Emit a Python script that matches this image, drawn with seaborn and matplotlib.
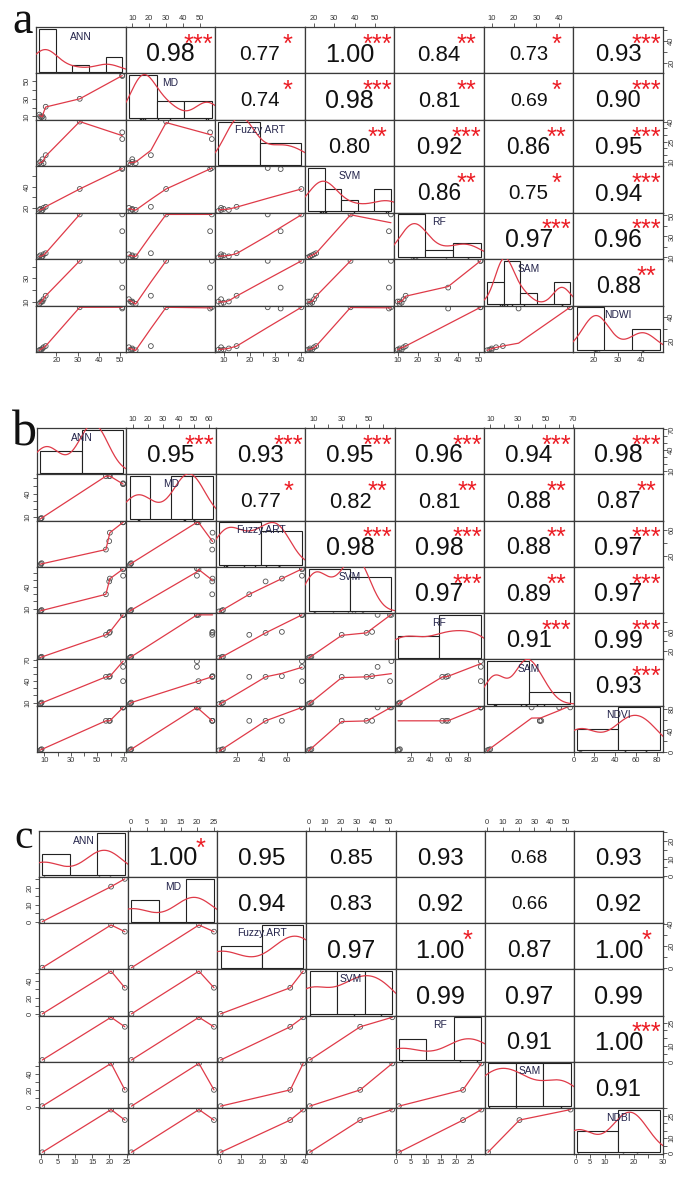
import numpy as np
import pandas as pd
import matplotlib
matplotlib.use("Agg")
import matplotlib.pyplot as plt
import seaborn as sns

# ---------------- panel a ----------------
a_vars = ["ANN", "MD", "Fuzzy ART", "SVM", "RF", "SAM", "NDWI"]
a_ANN = [12, 12.5, 13, 13.5, 14, 15, 31, 51, 51]
a_MD = [12, 10, 9, 10, 8, 21, 30, 57, 56]
a_FuzzyART = [9, 10, 8, 12, 9, 15, 40, 27, 32]
a_SVM = [18, 19, 17, 18, 20, 21, 38, 58, 57]
a_RF = [11, 12, 10, 11, 13, 14, 51, 51, 35]
a_SAM = [8, 9, 10, 10, 12, 15, 45, 45, 22]
a_NDWI = [12.5, 13, 13, 14, 15, 16, 48, 48, 47]
a_r = [0.98, 0.77, 1.00, 0.84, 0.73, 0.93,
       0.74, 0.98, 0.81, 0.69, 0.90,
       0.80, 0.92, 0.86, 0.95,
       0.86, 0.75, 0.94,
       0.97, 0.96,
       0.88]
a_sig = ["***", "*", "***", "**", "*", "***",
         "*", "***", "**", "*", "***",
         "**", "***", "**", "***",
         "**", "*", "***",
         "***", "***",
         "**"]

# ---------------- panel b ----------------
b_vars = ["ANN", "MD", "Fuzzy.ART", "SVM", "RF", "SAM", "NDVI"]
b_ANN = [7, 7.5, 8, 56.5, 59, 59.5, 69.5, 69.5, 69.5]
b_MD = [8, 8.5, 9, 62, 62, 62.2, 52, 52, 53]
b_FuzzyART = [6, 8, 9, 30, 43, 56, 72, 72, 72]
b_SVM = [6, 7, 8, 30, 48, 52, 66, 56, 65]
b_RF = [6, 7, 8, 53, 57, 59, 94, 94, 94]
b_SAM = [8, 9, 10, 46, 46, 47, 68, 60, 40]
b_NDVI = [3, 4, 5, 58, 58, 58, 83, 83, 83]
b_r = [0.95, 0.93, 0.95, 0.96, 0.94, 0.98,
       0.77, 0.82, 0.81, 0.88, 0.87,
       0.98, 0.98, 0.88, 0.97,
       0.97, 0.89, 0.97,
       0.91, 0.99,
       0.93]
b_sig = ["***", "***", "***", "***", "***", "***",
         "*", "**", "**", "**", "**",
         "***", "***", "**", "***",
         "***", "**", "***",
         "***", "***",
         "***"]

# ---------------- panel c ----------------
c_vars = ["ANN", "MD", "Fuzzy.ART", "SVM", "RF", "SAM", "NDBI"]
c_ANN = [0.5, 20.5, 24.5]
c_MD = [0.3, 20.5, 25.0]
c_FuzzyART = [0.5, 39.0, 33.0]
c_SVM = [0.5, 52.0, 32.0]
c_RF = [1.0, 28.4, 22.3]
c_SAM = [0.5, 53.0, 20.5]
c_NDBI = [0.5, 29.0, 22.0]
c_r = [1.00, 0.95, 0.85, 0.93, 0.68, 0.93,
       0.94, 0.83, 0.92, 0.66, 0.92,
       0.97, 1.00, 0.87, 1.00,
       0.99, 0.97, 0.99,
       0.91, 1.00,
       0.91]
c_sig = ["*", "", "", "", "", "",
         "", "", "", "", "",
         "", "*", "", "*",
         "", "", "",
         "", "***",
         ""]

panel_letters = ["a", "b", "c"]

# ---------------- style ----------------
W, H = 680, 1178
RED_LINE = "#df3a48"
RED_STAR = "#ec1c24"
FRAME = "#3a3a3a"
TICK_FS = 5.4
NUM_BASE = 18.3
LABEL_FS = 7.4

sns.set_style("white")
plt.rcParams["font.family"] = ["Liberation Sans", "DejaVu Sans"]


def r_pretty(lo, hi, n=5):
    dx = hi - lo
    cell = dx / n if dx > 0 else max(abs(lo), 1.0)
    U = 10 ** np.floor(np.log10(cell))
    unit = U
    if 2 * U - cell < 1.5 * (cell - unit):
        unit = 2 * U
        if 5 * U - cell < 2.75 * (cell - unit):
            unit = 5 * U
            if 10 * U - cell < 1.5 * (cell - unit):
                unit = 10 * U
    ns = np.floor(lo / unit + 1e-7)
    nu = np.ceil(hi / unit - 1e-7)
    if nu - ns < 1:
        nu = ns + 1
    return np.arange(ns, nu + 0.5) * unit


def nclass_fd(x):
    x = np.asarray(x, float)
    q = np.quantile(x, [0.25, 0.75])
    h = 2 * (q[1] - q[0])
    al = 0.25
    while h == 0 and al / 2 >= 1 / 512:
        al /= 2
        qq = np.quantile(x, [al, 1 - al])
        h = (qq[1] - qq[0]) / (1 - 2 * al)
    if h > 0:
        return max(1, int(np.ceil((x.max() - x.min()) / (h * len(x) ** (-1 / 3)))))
    return 1


def nrd0_factor(x):
    x = np.asarray(x, float)
    sd = np.std(x, ddof=1)
    q = np.quantile(x, [0.25, 0.75])
    lo = min(sd, (q[1] - q[0]) / 1.34)
    if lo <= 0:
        lo = sd
    return 0.9 * lo * len(x) ** (-0.2) / sd


def lowess_r(x, y, f=2 / 3, iters=3):
    o = np.argsort(x, kind="stable")
    x = np.asarray(x, float)[o]
    y = np.asarray(y, float)[o]
    n = len(x)
    ns = max(2, min(n, int(f * n + 1e-7)))
    rw = np.ones(n)
    ys = np.zeros(n)
    rng = x[-1] - x[0]
    idx = np.arange(n)
    for it in range(iters + 1):
        nleft, nright = 0, ns - 1
        for i in range(n):
            while nright < n - 1 and (x[i] - x[nleft]) > (x[nright + 1] - x[i]):
                nleft += 1
                nright += 1
            if i > 0 and x[i] == x[i - 1]:
                ys[i] = ys[i - 1]
                continue
            h = max(x[i] - x[nleft], x[nright] - x[i])
            d = np.abs(x - x[i])
            ok = idx >= nleft
            if h > 0:
                rr = d / h
                w = np.where(rr <= 0.001, 1.0, np.where(rr <= 0.999, (1 - rr ** 3) ** 3, 0.0))
            else:
                w = (d == 0).astype(float)
            w = w * ok * rw
            a = w.sum()
            if a <= 0:
                ys[i] = y[i]
                continue
            w = w / a
            if h > 0:
                a = (w * x).sum()
                b = x[i] - a
                c = (w * (x - a) ** 2).sum()
                if np.sqrt(c) > 0.001 * rng:
                    b /= c
                    w = w * (b * (x - a) + 1)
            ys[i] = (w * y).sum()
        if it >= iters:
            break
        res = y - ys
        sc = np.mean(np.abs(res))
        ar = np.sort(np.abs(res))
        m1 = n // 2
        cmad = 3 * (ar[m1] + ar[n - m1 - 1]) if n % 2 == 0 else 6 * ar[m1]
        if cmad < 1e-7 * sc or cmad == 0:
            break
        ra = np.abs(res)
        rw = np.where(ra <= 0.001 * cmad, 1.0,
                      np.where(ra <= 0.999 * cmad, (1 - (ra / cmad) ** 2) ** 2, 0.0))
    return x, ys


def fmt(t):
    if abs(t - round(t)) < 1e-9:
        return str(int(round(t)))
    return f"{t:g}"


def tick_setup(lim, length_px, gap_factor):
    ticks = r_pretty(lim[0], lim[1], 5)
    eps = 1e-7 * (lim[1] - lim[0])
    ticks = ticks[(ticks >= lim[0] - eps) & (ticks <= lim[1] + eps)]
    fs_px = TICK_FS * 100 / 72
    gap = gap_factor * 0.833 * fs_px
    labels, last_end = [], -1e9
    for t in ticks:
        s = fmt(t)
        w = len(s) * 0.556 * fs_px
        pos = (t - lim[0]) / (lim[1] - lim[0]) * length_px
        if pos - w / 2 >= last_end + gap:
            labels.append(s)
            last_end = pos + w / 2
        else:
            labels.append("")
    return ticks, labels


def draw_panel(fig, df, names, r_vals, sig_vals, box, letter):
    x0, y0, x1, y1, lx, ly, lfs = box
    k = len(names)
    cw = (x1 - x0) / k
    ch = (y1 - y0) / k
    usr = {}
    for v in names:
        d = df[v].to_numpy(float)
        lo, hi = d.min(), d.max()
        pad = 0.04 * (hi - lo)
        usr[v] = (lo - pad, hi + pad)
    upper = iter(zip(r_vals, sig_vals))
    for i in range(k):
        for j in range(k):
            rect = [(x0 + j * cw) / W, 1 - (y0 + (i + 1) * ch) / H, cw / W, ch / H]
            ax = fig.add_axes(rect)
            ax.set_facecolor("white")
            xv, yv = names[j], names[i]
            xs = df[xv].to_numpy(float)
            ysd = df[yv].to_numpy(float)
            if i > j:
                sns.scatterplot(x=xs, y=ysd, ax=ax, marker="o", s=12,
                                facecolor="none", edgecolor="#505050", linewidth=0.6)
                lx_, ly_ = lowess_r(xs, ysd)
                sns.lineplot(x=lx_, y=ly_, ax=ax, color=RED_LINE, lw=0.9,
                             estimator=None, sort=False)
            elif i < j:
                r, s = next(upper)
                fs = NUM_BASE * (abs(r) + 0.3) / 1.3
                em = fs * 100 / 72
                ax.text(0.5, 0.45 - 0.358 * em / ch, f"{r:.2f}", transform=ax.transAxes,
                        ha="center", va="baseline", fontsize=fs, color="#111111")
                if s:
                    em_s = NUM_BASE * 100 / 72
                    ax.text(0.81, 0.785 - 0.575 * em_s / ch, s, transform=ax.transAxes,
                            ha="center", va="baseline", fontsize=NUM_BASE, color=RED_STAR)
            else:
                ax2 = fig.add_axes(rect)
                ax2.set_axis_off()
                ax2.patch.set_alpha(0)
                edges = r_pretty(xs.min(), xs.max(), nclass_fd(xs))
                sns.histplot(x=xs, bins=edges, stat="density", ax=ax2, color="white",
                             edgecolor="#222222", linewidth=0.8, alpha=1)
                ymax = max(p.get_height() for p in ax2.patches)
                sns.kdeplot(x=xs, ax=ax2, bw_method=nrd0_factor(xs), cut=3,
                            color=RED_LINE, lw=0.9)
                sns.rugplot(x=xs, ax=ax2, height=0.03, color="#222222", lw=0.6)
                span = edges[-1] - edges[0]
                ax2.set_xlim(edges[0] - 0.04 * span, edges[-1] + 0.04 * span)
                ax2.set_ylim(-0.04 * ymax, 1.04 * ymax)
                ax2.text(0.5, 0.79, xv, transform=ax2.transAxes, ha="center", va="center",
                         fontsize=LABEL_FS, color="#23234a", zorder=10)
            # axes / ticks
            ax.set_xlabel("")
            ax.set_ylabel("")
            top = (i == 0 and j % 2 == 1)
            bottom = (i == k - 1 and j % 2 == 0)
            left = (j == 0 and i % 2 == 1)
            right = (j == k - 1 and i % 2 == 0)
            if top or bottom:
                t, lab = tick_setup(usr[xv], cw, 1.03)
                ax.set_xticks(t)
                ax.set_xticklabels(lab)
                ax.tick_params(axis="x", top=top, bottom=bottom, labeltop=top,
                               labelbottom=bottom, direction="out", length=2.6,
                               width=0.6, pad=1.2, labelsize=TICK_FS, color="#444444",
                               labelcolor="#333333")
            else:
                ax.set_xticks([])
            if left or right:
                t, lab = tick_setup(usr[yv], ch, 1.25)
                ax.set_yticks(t)
                ax.set_yticklabels(lab)
                ax.tick_params(axis="y", left=left, right=right, labelleft=left,
                               labelright=right, direction="out", length=2.6,
                               width=0.6, pad=1.2, labelsize=TICK_FS, color="#444444",
                               labelcolor="#333333", labelrotation=90)
                for tl in ax.get_yticklabels():
                    tl.set_va("center")
            else:
                ax.set_yticks([])
            ax.set_xlim(usr[xv])
            ax.set_ylim(usr[yv])
            for sp in ax.spines.values():
                sp.set_visible(True)
                sp.set_color(FRAME)
                sp.set_linewidth(0.9)
    fig.text(lx / W, 1 - ly / H, letter, fontsize=lfs, family=["Liberation Serif", "DejaVu Serif"],
             ha="left", va="baseline", color="#111111")


fig = plt.figure(figsize=(W / 100, H / 100), dpi=100)
fig.patch.set_facecolor("white")

df_a = pd.DataFrame(dict(zip(a_vars, [a_ANN, a_MD, a_FuzzyART, a_SVM, a_RF, a_SAM, a_NDWI])))
df_b = pd.DataFrame(dict(zip(b_vars, [b_ANN, b_MD, b_FuzzyART, b_SVM, b_RF, b_SAM, b_NDVI])))
df_c = pd.DataFrame(dict(zip(c_vars, [c_ANN, c_MD, c_FuzzyART, c_SVM, c_RF, c_SAM, c_NDBI])))

draw_panel(fig, df_a, a_vars, a_r, a_sig, (36, 27, 663, 352, 12, 33, 33), panel_letters[0])
draw_panel(fig, df_b, b_vars, b_r, b_sig, (37, 428, 663, 752, 12, 446, 36), panel_letters[1])
draw_panel(fig, df_c, c_vars, c_r, c_sig, (39, 831, 663, 1154, 14, 848, 30), panel_letters[2])

fig.savefig("out.png", dpi=100, facecolor="white")
